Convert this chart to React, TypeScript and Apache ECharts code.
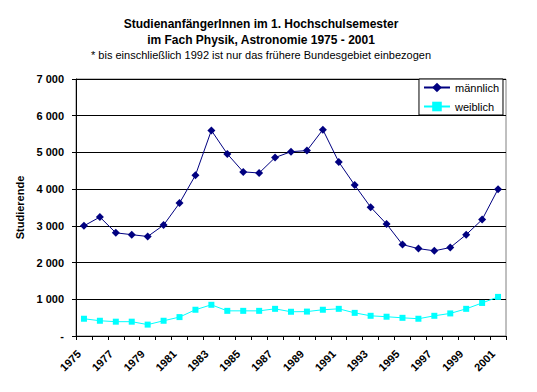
import React, { useEffect, useRef } from "react";
import * as echarts from "echarts";

const years: string[] = [
  "1975","1976","1977","1978","1979","1980","1981","1982","1983","1984",
  "1985","1986","1987","1988","1989","1990","1991","1992","1993","1994",
  "1995","1996","1997","1998","1999","2000","2001",
];
const maennlich: number[] = [
  3000, 3240, 2810, 2760, 2710, 3020, 3620, 4380, 5600, 4960,
  4470, 4440, 4860, 5020, 5050, 5620, 4740, 4110, 3510, 3050,
  2490, 2380, 2320, 2410, 2760, 3170, 4000,
];
const weiblich: number[] = [
  470, 415, 390, 390, 310, 415, 515, 715, 850, 685,
  685, 685, 740, 660, 665, 715, 740, 630, 550, 525,
  495, 470, 550, 615, 740, 900, 1065,
];
const titleLine1 = "StudienanfängerInnen im 1. Hochschulsemester";
const titleLine2 = "im Fach Physik, Astronomie 1975 - 2001";
const subtitle = "* bis einschließlich 1992 ist nur das frühere Bundesgebiet einbezogen";
const yName = "Studierende";

const FONT = "Liberation Sans, Arial, sans-serif";

export default function App() {
  const ref = useRef<HTMLDivElement>(null);
  useEffect(() => {
    document.body.style.margin = "0";
    if (!ref.current) return;
    const chart = echarts.init(ref.current, undefined, { renderer: "svg" });
    chart.setOption({
      animation: false,
      backgroundColor: "#ffffff",
      textStyle: { fontFamily: FONT },
      graphic: [
        {
          type: "text",
          x: 261,
          y: 24,
          style: {
            text: titleLine1,
            font: `bold 12px ${FONT}`,
            fill: "#000",
            textAlign: "center",
            textVerticalAlign: "middle",
          },
        },
        {
          type: "text",
          x: 261,
          y: 40,
          style: {
            text: titleLine2,
            font: `bold 12px ${FONT}`,
            fill: "#000",
            textAlign: "center",
            textVerticalAlign: "middle",
          },
        },
        {
          type: "text",
          x: 261,
          y: 55,
          style: {
            text: subtitle,
            font: `11px ${FONT}`,
            fill: "#000",
            textAlign: "center",
            textVerticalAlign: "middle",
          },
        },
      ],
      legend: {
        orient: "vertical",
        right: 34,
        top: 79,
        backgroundColor: "#ffffff",
        borderColor: "#000",
        borderWidth: 1,
        borderRadius: 0,
        padding: [3, 4, 3, 4],
        itemWidth: 26,
        itemHeight: 12,
        itemGap: 8,
        textStyle: { fontSize: 11, color: "#000", fontFamily: FONT },
        data: ["männlich", "weiblich"],
      },
      grid: {
        left: 76,
        right: 31,
        top: 79,
        bottom: 56,
        show: true,
        borderColor: "#808080",
        borderWidth: 1,
        backgroundColor: "transparent",
      },
      xAxis: {
        type: "category",
        data: years,
        boundaryGap: true,
        axisLine: { lineStyle: { color: "#000", width: 1 } },
        axisTick: { show: true, interval: 0, length: 4, lineStyle: { color: "#000" } },
        axisLabel: {
          interval: 1,
          rotate: 45,
          fontSize: 11,
          fontWeight: "bold",
          color: "#000",
          fontFamily: FONT,
          margin: 11,
          padding: [0, 7, 0, 0],
        },
        splitLine: { show: false },
      },
      yAxis: {
        type: "value",
        min: 0,
        max: 7000,
        interval: 1000,
        name: yName,
        nameLocation: "middle",
        nameGap: 44,
        nameTextStyle: { fontSize: 11, fontWeight: "bold", color: "#000", fontFamily: FONT },
        axisLine: { show: true, lineStyle: { color: "#000", width: 1 } },
        axisTick: { show: true, length: 4, lineStyle: { color: "#000" } },
        axisLabel: {
          fontSize: 11,
          fontWeight: "bold",
          color: "#000",
          fontFamily: FONT,
          margin: 12,
          formatter: (v: number) =>
            v === 0 ? "-" : String(v).replace(/\B(?=(\d{3})+(?!\d))/g, " "),
        },
        splitLine: { show: true, lineStyle: { color: "#000", width: 1 } },
      },
      series: [
        {
          name: "männlich",
          type: "line",
          data: maennlich,
          symbol: "diamond",
          symbolSize: 8,
          showAllSymbol: true,
          itemStyle: { color: "#000080" },
          lineStyle: { color: "#000080", width: 1 },
        },
        {
          name: "weiblich",
          type: "line",
          data: weiblich,
          symbol: "rect",
          symbolSize: 6,
          showAllSymbol: true,
          itemStyle: { color: "#00ffff" },
          lineStyle: { color: "#00ffff", width: 1 },
        },
      ],
    });
    return () => chart.dispose();
  }, []);
  return <div ref={ref} style={{ width: 537, height: 392 }} />;
}
